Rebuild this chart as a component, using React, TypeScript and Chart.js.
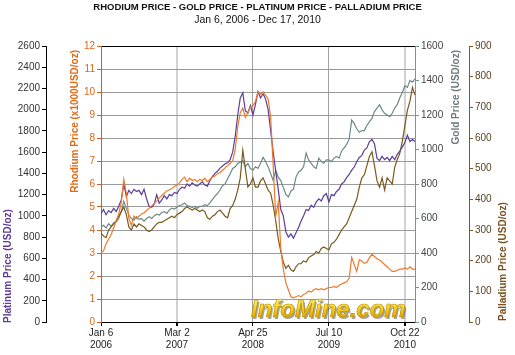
import React, { useEffect, useRef } from "react";
import { Chart, registerables } from "chart.js";
Chart.register(...registerables);

// Rhodium price, x1000 USD/oz (approx. bi-weekly, Jan 6 2006 - Dec 17 2010)
const rhodium = [
  3.0, 3.1, 3.4, 3.6, 3.8, 4.1, 4.4, 4.7, 5.2, 6.2,
  5.6, 4.5, 4.2, 4.6, 4.5, 4.6, 4.7, 4.75, 4.85, 4.95,
  5.05, 5.15, 5.25, 5.4, 5.5, 5.6, 5.7, 5.75, 5.8, 5.9,
  5.95, 6.05, 6.2, 6.3, 6.1, 6.25, 6.15, 6.2, 6.1, 6.2,
  6.15, 6.25, 6.1, 6.2, 6.3, 6.35, 6.45, 6.5, 6.6, 6.7,
  6.8, 6.9, 7.0, 7.5, 8.5, 9.1, 9.3, 8.9, 9.1, 9.35,
  9.4, 9.6, 10.0, 9.9, 10.0, 9.85, 9.7, 8.9, 6.8, 4.6,
  5.2, 3.2, 2.3, 1.7, 1.4, 1.1, 1.05, 1.1, 1.15, 1.1,
  1.2, 1.25, 1.35, 1.3, 1.4, 1.45, 1.4, 1.45, 1.4, 1.45,
  1.5, 1.5, 1.55, 1.5, 1.6, 1.65, 1.7, 1.75, 1.9, 2.8,
  2.5, 2.2, 2.7, 2.65, 2.55, 2.6, 2.8, 2.95, 2.85, 2.75,
  2.7, 2.6, 2.5, 2.4, 2.3, 2.2, 2.2, 2.25, 2.3, 2.3,
  2.35, 2.3, 2.4, 2.3, 2.3,
];

// Platinum price, USD/oz
const platinum = [
  1020, 1060, 1010, 1050, 1030, 1070, 1040, 1090, 1150, 1300,
  1180, 1240, 1210, 1250, 1230, 1240, 1200, 1250, 1160, 1090,
  1080, 1110, 1200, 1120, 1150, 1190, 1160, 1200, 1190, 1220,
  1210, 1250, 1270, 1260, 1300, 1280, 1310, 1290, 1280, 1300,
  1320, 1290, 1280, 1330, 1370, 1400, 1420, 1450, 1470, 1490,
  1500, 1530, 1600, 1750, 1950, 2110, 2160, 1990, 1970, 2040,
  1950, 2050, 2170, 2110, 2150, 2100, 2000, 1800, 1600, 1420,
  1250, 1060, 1000, 850, 800, 830, 790, 840, 890, 950,
  1000, 1060, 1050, 1100, 1080, 1130, 1160, 1140, 1190, 1210,
  1130, 1200, 1190, 1230, 1250, 1300, 1320, 1360, 1390, 1430,
  1460, 1510, 1550, 1570, 1620, 1640, 1700, 1720, 1680, 1540,
  1520, 1560, 1530, 1550, 1520, 1560, 1530, 1580, 1610, 1650,
  1690, 1760, 1700, 1720, 1700,
];

// Gold price, USD/oz
const gold = [
  550, 560, 545, 570, 555, 575, 580, 600, 640, 700,
  660, 620, 600, 590, 610, 595, 600, 585, 600, 610,
  600, 615, 625, 620, 635, 640, 630, 650, 660, 655,
  665, 675, 680, 690, 675, 670, 665, 670, 660, 670,
  670, 680, 675, 690, 710, 730, 745, 765, 790, 800,
  830, 860, 890, 900, 920, 925, 935, 900, 920, 890,
  880, 900, 890, 920, 955, 930, 900, 860, 820, 880,
  840, 820, 780, 740, 725, 760, 770, 840, 870, 880,
  900, 980, 940, 920, 900, 890, 950, 930, 920, 940,
  940, 930, 950, 960, 950, 990, 1010, 1030, 1060, 1170,
  1150, 1120, 1100, 1110, 1110, 1140, 1160, 1180, 1220, 1240,
  1260, 1230, 1210, 1200, 1190, 1210, 1240, 1260, 1300, 1330,
  1370, 1360, 1400, 1390, 1410,
];

// Palladium price, USD/oz
const palladium = [
  290, 280, 275, 300, 310, 320, 330, 345, 360, 375,
  350, 310, 300, 320, 310, 320, 315, 310, 300, 295,
  300, 310, 320, 325, 325, 330, 335, 340, 345, 340,
  350, 355, 360, 370, 375, 370, 365, 370, 365, 360,
  365, 360, 340, 335, 345, 350, 360, 365, 355, 345,
  340, 370, 380, 400, 430, 470, 560, 500, 440, 450,
  470, 440, 440, 460, 470, 450, 430, 420, 380, 330,
  270, 230, 195, 175, 185, 170, 165, 180, 190, 190,
  200, 195, 210, 215, 220, 230, 225, 240, 245, 240,
  235, 255, 260, 270, 285, 300, 310, 320, 340, 360,
  380, 400, 440, 470, 480, 510, 540, 555, 510, 460,
  440, 470, 430, 470, 460, 450, 505, 530, 550, 590,
  640, 690, 720, 765, 740,
];

const xTickIndex = [0, 30, 60, 90, 120];
const xTickLabels = [
  ["Jan 6", "2006"],
  ["Mar 2", "2007"],
  ["Apr 25", "2008"],
  ["Jul 10", "2009"],
  ["Oct 22", "2010"],
];
const titleText = "RHODIUM PRICE - GOLD PRICE - PLATINUM PRICE - PALLADIUM PRICE";
const subtitleText = "Jan 6, 2006 - Dec 17, 2010";
const axisTitles = {
  platinum: "Platinum Price (USD/oz)",
  rhodium: "Rhodium Price (x1000USD/oz)",
  gold: "Gold Price (USD/oz)",
  palladium: "Palladium Price (USD/oz)",
};
const watermark = "InfoMine.com";

const FONT = '"Liberation Sans", Arial, sans-serif';
const C_RH = "#ee7a2a";
const C_RH_AX = "#c8621c";
const C_PT = "#5c3d99";
const C_AU = "#6e8a88";
const C_AU_AX = "#7c9494";
const C_PD = "#7a5a1e";

const axisTitlePlugin = {
  id: "axisTitles",
  afterDraw(chart: any) {
    const ctx = chart.ctx;
    const draw = (text: string, x: number, y: number, align: CanvasTextAlign, color: string) => {
      ctx.save();
      ctx.translate(x, y);
      ctx.rotate(-Math.PI / 2);
      ctx.textAlign = align;
      ctx.textBaseline = "middle";
      ctx.fillStyle = color;
      ctx.font = "bold 10px " + FONT;
      ctx.fillText(text, 0, 0);
      ctx.restore();
    };
    const a = chart.chartArea;
    draw(axisTitles.platinum, 8, a.bottom + 1, "left", C_PT);
    draw(axisTitles.rhodium, 75, a.top + 4, "right", "#e06a18");
    draw(axisTitles.gold, 456, a.top + 4, "right", "#6c7c7c");
    draw(axisTitles.palladium, 503, a.bottom - 1, "left", "#7a5020");
  },
};

const watermarkPlugin = {
  id: "watermark",
  afterDatasetsDraw(chart: any) {
    const ctx = chart.ctx;
    const a = chart.chartArea;
    const x = a.left + 150;
    const y = a.bottom - 5;
    ctx.save();
    ctx.font = "italic bold 24px " + FONT;
    ctx.textAlign = "left";
    ctx.textBaseline = "alphabetic";
    ctx.fillStyle = "rgba(90,90,90,0.55)";
    ctx.fillText(watermark, x + 1.5, y + 1.5);
    const g = ctx.createLinearGradient(0, y - 18, 0, y);
    g.addColorStop(0, "#fff27a");
    g.addColorStop(0.5, "#f7d21e");
    g.addColorStop(1, "#e2a800");
    ctx.fillStyle = g;
    ctx.fillText(watermark, x, y);
    ctx.lineWidth = 0.6;
    ctx.strokeStyle = "#b88a00";
    ctx.strokeText(watermark, x, y);
    ctx.restore();
  },
};

export default function App() {
  const ref = useRef<HTMLCanvasElement>(null);
  useEffect(() => {
    document.body.style.margin = "0";
    const el = ref.current!;
    const pts = (arr: number[]) => arr.map((v, i) => ({ x: i, y: v }));
    const line = (label: string, arr: number[], axis: string, color: string) => ({
      label,
      data: pts(arr),
      yAxisID: axis,
      borderColor: color,
      backgroundColor: color,
      borderWidth: 1.2,
      pointRadius: 0,
      tension: 0,
      fill: false,
    });
    const tickFont = { family: FONT, size: 10 };
    const plain = (v: any) => String(v);
    const xGridColors = ["rgba(0,0,0,0)", "#d2d2d2", "#a0a0a0", "#a0a0a0", "#d2d2d2"];
    const xGridWidths = [1, 2, 1, 1, 2];
    const chart = new Chart(el, {
      type: "line",
      data: {
        datasets: [
          line("Rhodium", rhodium, "yRh", C_RH),
          line("Platinum", platinum, "yPt", C_PT),
          line("Palladium", palladium, "yPd", C_PD),
          line("Gold", gold, "yAu", C_AU),
        ],
      },
      options: {
        responsive: false,
        animation: false,
        layout: { padding: 0 },
        plugins: {
          legend: { display: false },
          tooltip: { enabled: false },
          title: {
            display: true,
            text: titleText,
            color: "#111",
            font: { family: FONT, size: 9.5, weight: "bold" },
            padding: { top: 2, bottom: 0 },
          },
          subtitle: {
            display: true,
            text: subtitleText,
            color: "#111",
            font: { family: FONT, size: 10.5 },
            padding: { top: 0, bottom: 20 },
          },
        },
        scales: {
          x: {
            type: "linear",
            min: 0,
            max: rhodium.length - 1,
            afterBuildTicks: (s: any) => {
              s.ticks = xTickIndex.map((v) => ({ value: v }));
            },
            afterFit: (s: any) => {
              s.height = 33;
            },
            ticks: {
              autoSkip: false,
              maxRotation: 0,
              color: "#222",
              font: tickFont,
              padding: 1,
              callback: (v: any) => {
                const k = xTickIndex.indexOf(Number(v));
                return k >= 0 ? xTickLabels[k] : "";
              },
            },
            grid: {
              color: (c: any) => xGridColors[c.index] ?? "#a0a0a0",
              lineWidth: (c: any) => xGridWidths[c.index] ?? 1,
              tickLength: 4,
              tickColor: "#000",
            },
            border: { color: "#000" },
          },
          yRh: {
            position: "left",
            weight: 0,
            min: 0,
            max: 12,
            afterFit: (s: any) => {
              s.width = 55;
            },
            ticks: { stepSize: 1, color: "#d8661c", font: tickFont, padding: 2, callback: plain },
            grid: {
              color: (c: any) => (c.tick && (c.tick.value === 12 || c.tick.value === 0) ? "#000" : "#9a9a9a"),
              tickLength: 4,
              tickColor: C_RH_AX,
            },
            border: { color: C_RH_AX },
          },
          yPt: {
            position: "left",
            weight: 1,
            min: 0,
            max: 2600,
            afterFit: (s: any) => {
              s.width = 46;
            },
            ticks: { stepSize: 200, color: "#333", font: tickFont, padding: 2, callback: plain },
            grid: { drawOnChartArea: false, tickLength: 4, tickColor: "#000" },
            border: { color: "#000" },
          },
          yAu: {
            position: "right",
            weight: 0,
            min: 0,
            max: 1600,
            afterFit: (s: any) => {
              s.width = 54;
            },
            ticks: { stepSize: 200, color: "#444", font: tickFont, padding: 2, callback: plain },
            grid: { drawOnChartArea: false, tickLength: 4, tickColor: C_AU_AX },
            border: { color: C_AU_AX },
          },
          yPd: {
            position: "right",
            weight: 1,
            min: 0,
            max: 900,
            afterFit: (s: any) => {
              s.width = 46;
            },
            ticks: { stepSize: 100, color: "#5a4420", font: tickFont, padding: 2, callback: plain },
            grid: { drawOnChartArea: false, tickLength: 4, tickColor: C_PD },
            border: { color: C_PD },
          },
        },
      } as any,
      plugins: [axisTitlePlugin, watermarkPlugin],
    });
    return () => chart.destroy();
  }, []);
  return <canvas ref={ref} width={515} height={355} style={{ display: "block" }} />;
}
